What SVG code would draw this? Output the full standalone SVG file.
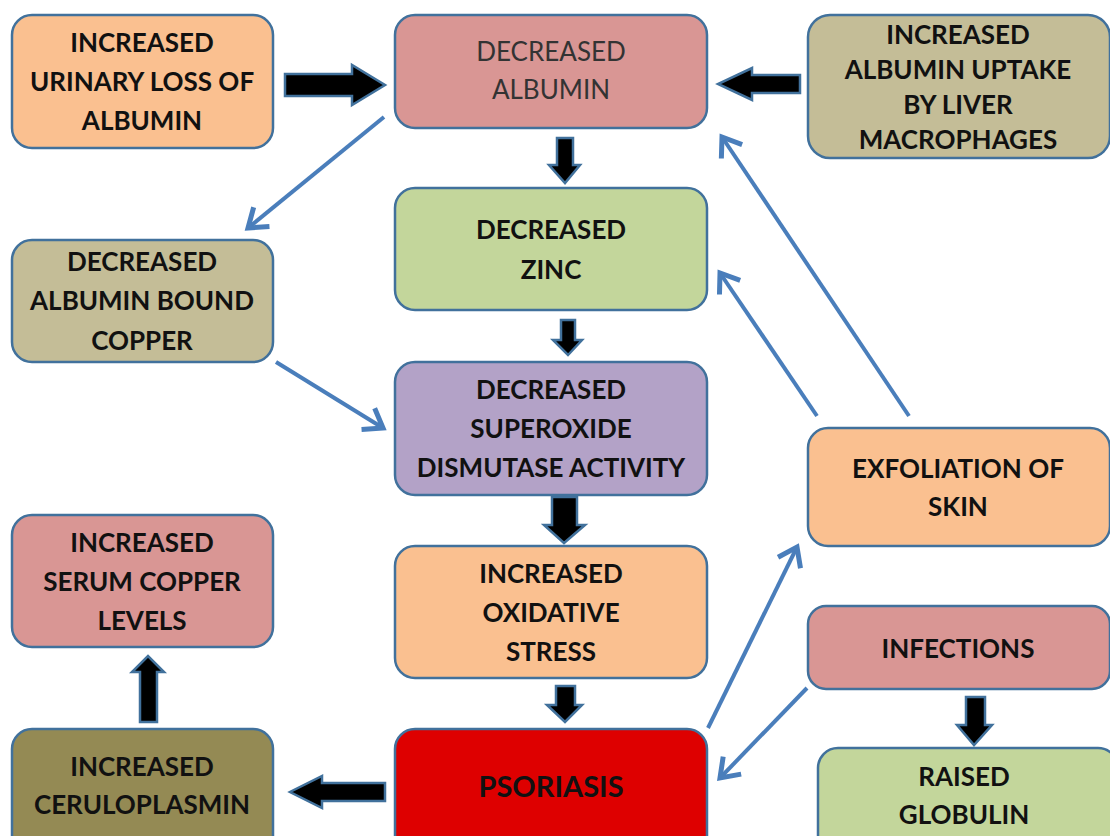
<svg xmlns="http://www.w3.org/2000/svg" width="1110" height="836" viewBox="0 0 1110 836">
<defs>
<style>
.box{stroke:#41719C;stroke-width:2.5}
.t{font-family:Lato,"Open Sans","Liberation Sans",sans-serif;font-weight:bold;font-size:26px;fill:#111;text-anchor:middle}
.r{font-weight:normal;fill:#333}
.blk{fill:#000;stroke:#41719C;stroke-width:2.5;stroke-linejoin:miter}
.thin{stroke:#4A7EBB;stroke-width:4;fill:none;marker-end:url(#chev)}
</style>
<marker id="chev" markerUnits="userSpaceOnUse" markerWidth="30" markerHeight="30" viewBox="-16 -12 20 24" refX="0" refY="0" orient="auto">
<path d="M-14,-10 L0,0 L-14,10" fill="none" stroke="#4A7EBB" stroke-width="4"/>
</marker>
</defs>
<rect width="1110" height="836" fill="#fff"/>
<g id="connectors">
<polygon class="blk" points="285,74 352,74 352,65 385,85 352,105 352,96 285,96"/>
<polygon class="blk" points="800,75 752,75 752,68 718,84 752,100 752,93 800,93"/>
<polygon class="blk" points="557,138 573,138 573,165 580,165 565,183 549,165 557,165"/>
<polygon class="blk" points="561,320 575,320 575,340 582,340 568,355 553,340 561,340"/>
<polygon class="blk" points="552,497 577,497 577,525 585,525 564,543 544,525 552,525"/>
<polygon class="blk" points="556,686 575,686 575,705 582,705 565,722 547,705 556,705"/>
<polygon class="blk" points="140,722 157,722 157,672 164,672 148,656 132,672 140,672"/>
<polygon class="blk" points="385,783 322,783 322,776 290,792 322,808 322,801 385,801"/>
<polygon class="blk" points="966,697 985,697 985,725 992,725 974,745 957,725 966,725"/>
<line class="thin" x1="384" y1="117" x2="248" y2="228"/>
<line class="thin" x1="276" y1="362" x2="383" y2="428"/>
<line class="thin" x1="817" y1="416" x2="720" y2="273"/>
<line class="thin" x1="909" y1="416" x2="722" y2="137"/>
<line class="thin" x1="708" y1="728" x2="797" y2="547"/>
<line class="thin" x1="807" y1="688" x2="720" y2="778"/>
</g>
<g id="n1"><rect class="box" x="12" y="15" width="261" height="133" rx="20" fill="#FAC090"/>
<text class="t" x="142" y="52">INCREASED</text><text class="t" x="142" y="91">URINARY LOSS OF</text><text class="t" x="142" y="130">ALBUMIN</text></g>
<g id="n2"><rect class="box" x="395" y="15" width="312" height="113" rx="20" fill="#D99694"/>
<text class="t r" x="551" y="61">DECREASED</text><text class="t r" x="551" y="99">ALBUMIN</text></g>
<g id="n3"><rect class="box" x="808" y="15" width="302" height="143" rx="22" fill="#C4BD97"/>
<text class="t" x="958" y="44">INCREASED</text><text class="t" x="958" y="79">ALBUMIN UPTAKE</text><text class="t" x="958" y="114">BY LIVER</text><text class="t" x="958" y="149">MACROPHAGES</text></g>
<g id="n4"><rect class="box" x="395" y="188" width="312" height="122" rx="20" fill="#C3D69B"/>
<text class="t" x="551" y="239">DECREASED</text><text class="t" x="551" y="279">ZINC</text></g>
<g id="n5"><rect class="box" x="12" y="240" width="261" height="122" rx="20" fill="#C4BD97"/>
<text class="t" x="142" y="271">DECREASED</text><text class="t" x="142" y="310">ALBUMIN BOUND</text><text class="t" x="142" y="350">COPPER</text></g>
<g id="n6"><rect class="box" x="395" y="362" width="312" height="133" rx="20" fill="#B3A2C7"/>
<text class="t" x="551" y="399">DECREASED</text><text class="t" x="551" y="438">SUPEROXIDE</text><text class="t" x="551" y="477">DISMUTASE ACTIVITY</text></g>
<g id="n7"><rect class="box" x="808" y="428" width="302" height="118" rx="20" fill="#FAC090"/>
<text class="t" x="958" y="478">EXFOLIATION OF</text><text class="t" x="958" y="516">SKIN</text></g>
<g id="n8"><rect class="box" x="12" y="515" width="261" height="132" rx="20" fill="#D99694"/>
<text class="t" x="142" y="552">INCREASED</text><text class="t" x="142" y="591">SERUM COPPER</text><text class="t" x="142" y="630">LEVELS</text></g>
<g id="n9"><rect class="box" x="395" y="546" width="312" height="132" rx="20" fill="#FAC090"/>
<text class="t" x="551" y="583">INCREASED</text><text class="t" x="551" y="622">OXIDATIVE</text><text class="t" x="551" y="661">STRESS</text></g>
<g id="n10"><rect class="box" x="808" y="606" width="302" height="83" rx="18" fill="#D99694"/>
<text class="t" x="958" y="658">INFECTIONS</text></g>
<g id="n11"><rect class="box" x="12" y="729" width="261" height="130" rx="20" fill="#948A54"/>
<text class="t" x="142" y="776">INCREASED</text><text class="t" x="142" y="814">CERULOPLASMIN</text></g>
<g id="n12"><rect class="box" x="395" y="729" width="312" height="130" rx="20" fill="#DE0000"/>
<text class="t" x="551" y="797" style="font-size:29px">PSORIASIS</text></g>
<g id="n13"><rect class="box" x="818" y="748" width="300" height="110" rx="20" fill="#C3D69B"/>
<text class="t" x="964" y="786">RAISED</text><text class="t" x="964" y="824">GLOBULIN</text></g>
</svg>
